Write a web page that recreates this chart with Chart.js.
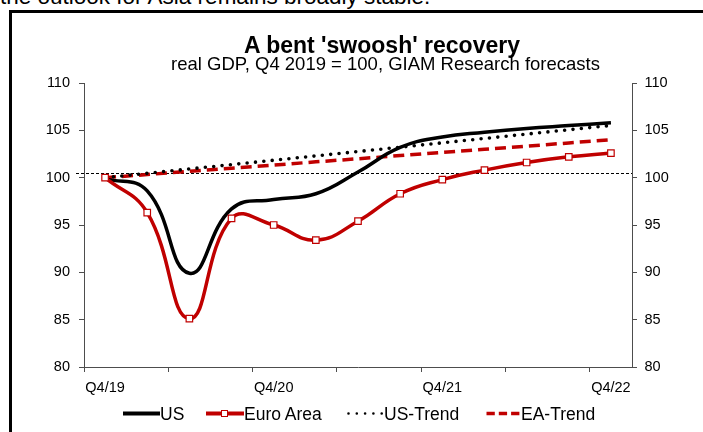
<!DOCTYPE html>
<html>
<head>
<meta charset="utf-8">
<title>A bent 'swoosh' recovery</title>
<script src="https://cdn.jsdelivr.net/npm/chart.js@4.4.0/dist/chart.umd.min.js"></script>
<style>
    html, body { margin: 0; padding: 0; background: #fff; overflow: hidden; }
    body { position: relative; width: 703px; height: 432px; font-family: "Liberation Sans", Arial, sans-serif; color: #000; }
    #headline { position: absolute; left: 0; top: -14px; font-size: 22.5px; line-height: 22.5px; white-space: nowrap; }
    #frame { position: absolute; left: 9px; top: 10px; width: 800px; height: 500px; border: 3px solid #000; }
    #myChart { position: absolute; left: 0; top: 0; }
    .chart-title { position: absolute; transform: translateX(-50%); white-space: nowrap; }
    #title { left: 382px; top: 33.8px; font-size: 23px; line-height: 23px; font-weight: bold; }
    #subtitle { left: 385.5px; top: 55px; font-size: 18.5px; line-height: 18.5px; }
    .lg-sample { position: absolute; top: 404px; height: 20px; }
    .lg-text { position: absolute; top: 404px; font-size: 17.5px; line-height: 20px; white-space: nowrap; }
</style>
</head>
<body>
<div id="headline">the outlook for Asia remains broadly stable.</div>
<div id="frame"></div>
<canvas id="myChart" width="703" height="432"></canvas>
<div id="title" class="chart-title">A bent 'swoosh' recovery</div>
<div id="subtitle" class="chart-title">real GDP, Q4 2019 = 100, GIAM Research forecasts</div>

<svg class="lg-sample" style="left:123px" width="37" height="20"><line x1="0" y1="9.5" x2="37" y2="9.5" stroke="#000" stroke-width="4"/></svg>
<span class="lg-text" style="left:160px">US</span>

<svg class="lg-sample" style="left:206px" width="38" height="20"><line x1="0" y1="9.5" x2="38" y2="9.5" stroke="#C00000" stroke-width="4"/><rect x="15.5" y="6.5" width="6" height="6" fill="#fff" stroke="#C00000" stroke-width="1"/></svg>
<span class="lg-text" style="left:244px">Euro Area</span>

<svg class="lg-sample" style="left:347px" width="37" height="20"><line x1="1.5" y1="9.5" x2="35" y2="9.5" stroke="#000" stroke-width="2.6" stroke-linecap="round" stroke-dasharray="0 8.3"/></svg>
<span class="lg-text" style="left:384px">US-Trend</span>

<svg class="lg-sample" style="left:486px" width="35" height="20"><line x1="0.5" y1="9.5" x2="34" y2="9.5" stroke="#C00000" stroke-width="3.5" stroke-dasharray="8.3 4"/></svg>
<span class="lg-text" style="left:521px">EA-Trend</span>

<script>
"use strict";

// #region Data
const quarters = ["Q4/19", "Q1/20", "Q2/20", "Q3/20", "Q4/20", "Q1/21", "Q2/21",
                  "Q3/21", "Q4/21", "Q1/22", "Q2/22", "Q3/22", "Q4/22"];
const usGdp    = [99.9, 98.6, 89.9, 96.7, 97.7, 98.3, 100.6, 103.2, 104.3, 104.8, 105.2, 105.5, 105.8];
const euroGdp  = [100.0, 96.3, 85.1, 95.7, 95.0, 93.4, 95.4, 98.3, 99.8, 100.8, 101.6, 102.2, 102.6];
const usTrend  = [100.0, 100.46, 100.92, 101.38, 101.84, 102.3, 102.76, 103.22, 103.68, 104.14, 104.6, 105.06, 105.52];
const eaTrend  = [100.0, 100.33, 100.67, 101.0, 101.33, 101.67, 102.0, 102.33, 102.67, 103.0, 103.33, 103.67, 104.0];
const yMin = 80;
const yMax = 110;
const yStep = 5;
const refLevel = 100.5;
// #endregion

// #region Styles
const RED = "#C00000";
const AXIS = "#4d4d4d";
const FONT = "'Liberation Sans', Arial, sans-serif";
const tickFont = { family: FONT, size: 14.5 };
// #endregion

// #region Plugins
/* thin dashed reference line across the plot */
const refLinePlugin = {
    id: "refLine",
    beforeDatasetsDraw(chart) {
        const { ctx, chartArea, scales } = chart;
        const y = Math.round(scales.y.getPixelForValue(refLevel)) + 0.5;
        ctx.save();
        ctx.strokeStyle = "#000";
        ctx.lineWidth = 1;
        ctx.setLineDash([3, 2]);
        ctx.beginPath();
        ctx.moveTo(chartArea.left - 8, y);
        ctx.lineTo(chartArea.right, y);
        ctx.stroke();
        ctx.restore();
    },
};
// #endregion

// #region Chart
const data = {
    labels: quarters,
    datasets: [
        {
            label: "Euro Area",
            data: euroGdp,
            borderColor: RED,
            borderWidth: 3.5,
            tension: 0.45,
            pointStyle: "rect",
            pointRadius: 4.6,
            pointBackgroundColor: "#fff",
            pointBorderColor: RED,
            pointBorderWidth: 1.2,
            order: 0,
        },
        {
            label: "US",
            data: usGdp,
            borderColor: "#000",
            borderWidth: 3.5,
            tension: 0.45,
            pointRadius: 0,
            order: 1,
        },
        {
            label: "US-Trend",
            data: usTrend,
            borderColor: "#000",
            borderWidth: 3.6,
            borderDash: [0, 8.4],
            borderCapStyle: "round",
            pointRadius: 0,
            order: 2,
        },
        {
            label: "EA-Trend",
            data: eaTrend,
            borderColor: RED,
            borderWidth: 3.5,
            borderDash: [11, 6],
            pointRadius: 0,
            order: 3,
        },
    ],
};

const yAxis = (position, width, pad) => ({
    type: "linear",
    position: position,
    min: yMin,
    max: yMax,
    grid: { drawOnChartArea: false, tickLength: 5, color: AXIS },
    border: { color: AXIS, width: 1 },
    ticks: { stepSize: yStep, padding: pad, color: "#000", font: tickFont },
    afterFit: (scale) => { scale.width = width; },
});

const config = {
    type: "line",
    data: data,
    options: {
        responsive: false,
        devicePixelRatio: 1,
        animation: false,
        layout: { padding: { top: 83, bottom: 0, left: 0, right: 0 } },
        plugins: {
            legend: { display: false },
            tooltip: { enabled: false },
        },
        scales: {
            x: {
                type: "category",
                offset: true,
                grid: {
                    offset: true,
                    drawOnChartArea: false,
                    tickLength: 5,
                    color: (ctx) => (ctx.index !== undefined && ctx.index % 2 === 0 ? AXIS : "rgba(0,0,0,0)"),
                },
                border: { color: AXIS, width: 1 },
                ticks: {
                    autoSkip: false,
                    maxRotation: 0,
                    padding: 7,
                    color: "#000",
                    font: tickFont,
                    callback: (value, index) => (index % 4 === 0 ? quarters[index] : ""),
                },
                afterFit: (scale) => { scale.height = 65; },
            },
            y: yAxis("left", 84, 9),
            y2: yAxis("right", 71, 7.5),
        },
    },
    plugins: [refLinePlugin],
};

const myChart = new Chart(document.getElementById("myChart"), config);
// #endregion
</script>
</body>
</html>
